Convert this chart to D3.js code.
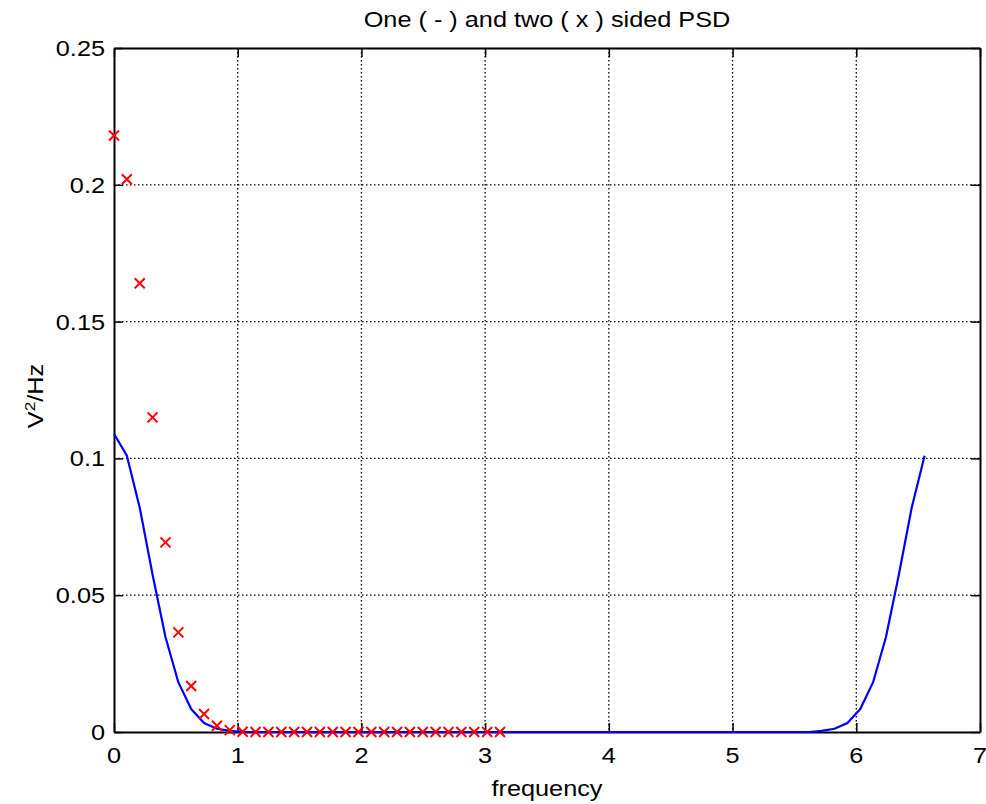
<!DOCTYPE html>
<html>
<head>
<meta charset="utf-8">
<script src="https://cdn.jsdelivr.net/npm/d3@7"></script>
<style>
  body { margin: 0; background: #fff; }
  text { font-family: "Liberation Sans", Arial, sans-serif; fill: #000; }
</style>
</head>
<body>
<script>
// frequency bins (one-sided spectrum, 64 bins)
var freq = [0, 0.104, 0.208, 0.312, 0.416, 0.520, 0.624, 0.728, 0.832, 0.936,
  1.040, 1.144, 1.248, 1.352, 1.456, 1.560, 1.664, 1.768, 1.872, 1.976,
  2.080, 2.184, 2.288, 2.392, 2.496, 2.600, 2.704, 2.808, 2.912, 3.016,
  3.120, 3.224, 3.328, 3.432, 3.536, 3.640, 3.744, 3.848, 3.952, 4.056,
  4.160, 4.264, 4.368, 4.472, 4.576, 4.680, 4.784, 4.888, 4.992, 5.096,
  5.200, 5.304, 5.408, 5.512, 5.616, 5.720, 5.824, 5.928, 6.032, 6.136,
  6.240, 6.344, 6.448, 6.552];

// one-sided PSD (blue line)
var psdOne = [0.109, 0.101, 0.082, 0.0575, 0.0347, 0.0182, 0.0084, 0.0033, 0.0012, 0.0004,
  0.0001, 0, 0, 0, 0, 0, 0, 0, 0, 0,
  0, 0, 0, 0, 0, 0, 0, 0, 0, 0,
  0, 0, 0, 0, 0, 0, 0, 0, 0, 0,
  0, 0, 0, 0, 0, 0, 0, 0, 0, 0,
  0, 0, 0, 0, 0, 0.0004, 0.0012, 0.0033, 0.0084, 0.0182,
  0.0347, 0.0575, 0.082, 0.101];

// two-sided PSD (red crosses), first 31 bins
var psdTwo = [0.218, 0.202, 0.164, 0.115, 0.0693, 0.0364, 0.0168, 0.0066, 0.0023, 0.0007,
  0.0001, 0, 0, 0, 0, 0, 0, 0, 0, 0,
  0, 0, 0, 0, 0, 0, 0, 0, 0, 0, 0];

var xTicks = [0, 1, 2, 3, 4, 5, 6, 7];
var yTicks = [0, 0.05, 0.1, 0.15, 0.2, 0.25];
var yTickLabels = ['0', '0.05', '0.1', '0.15', '0.2', '0.25'];

var width = 986, height = 804;
var margin = {left: 114, top: 48, right: 6, bottom: 72};
var graphWidth = width - margin.left - margin.right;
var graphHeight = height - margin.top - margin.bottom;
var fontSize = 22, stretch = 1.15;

var svg = d3.select('body').append('svg')
  .attr('width', width)
  .attr('height', height);

var xScale = d3.scaleLinear().domain([0, 7]).range([0, graphWidth]);
var yScale = d3.scaleLinear().domain([0, 0.25]).range([graphHeight, 0]);

var g = svg.append('g')
  .attr('transform', 'translate(' + margin.left + ',' + margin.top + ')');

// grid
g.append('g').selectAll('line')
  .data(xTicks.slice(1, -1))
  .enter().append('line')
  .attr('x1', function(d) { return xScale(d); })
  .attr('x2', function(d) { return xScale(d); })
  .attr('y1', 0).attr('y2', graphHeight)
  .attr('stroke', '#000').attr('stroke-width', 1.3)
  .attr('stroke-dasharray', '1.5,2.5');

g.append('g').selectAll('line')
  .data(yTicks.slice(1, -1))
  .enter().append('line')
  .attr('y1', function(d) { return yScale(d); })
  .attr('y2', function(d) { return yScale(d); })
  .attr('x1', 0).attr('x2', graphWidth)
  .attr('stroke', '#000').attr('stroke-width', 1.3)
  .attr('stroke-dasharray', '1.5,2.5');

// axes, ticks inward on all sides
var tickLen = 9;
var xAxisB = g.append('g').attr('transform', 'translate(0,' + graphHeight + ')')
  .call(d3.axisBottom(xScale).tickValues(xTicks).tickSizeInner(-tickLen).tickSizeOuter(0).tickFormat(''));
var xAxisT = g.append('g')
  .call(d3.axisTop(xScale).tickValues(xTicks).tickSizeInner(-tickLen).tickSizeOuter(0).tickFormat(''));
var yAxisL = g.append('g')
  .call(d3.axisLeft(yScale).tickValues(yTicks).tickSizeInner(-tickLen).tickSizeOuter(0).tickFormat(''));
var yAxisR = g.append('g').attr('transform', 'translate(' + graphWidth + ',0)')
  .call(d3.axisRight(yScale).tickValues(yTicks).tickSizeInner(-tickLen).tickSizeOuter(0).tickFormat(''));

[xAxisB, xAxisT, yAxisL, yAxisR].forEach(function(ax) {
  ax.selectAll('.domain').attr('stroke', '#000').attr('stroke-width', 2);
  ax.selectAll('.tick line').attr('stroke', '#000').attr('stroke-width', 1.5);
});

// tick labels (slightly wide, like the original renderer)
g.append('g').selectAll('text')
  .data(xTicks)
  .enter().append('text')
  .attr('transform', function(d) {
    return 'translate(' + xScale(d) + ',' + (graphHeight + 31) + ') scale(' + stretch + ',1)';
  })
  .attr('text-anchor', 'middle')
  .style('font-size', fontSize + 'px')
  .text(function(d) { return d; });

g.append('g').selectAll('text')
  .data(yTicks)
  .enter().append('text')
  .attr('transform', function(d) {
    return 'translate(-9,' + (yScale(d) + 8) + ') scale(' + stretch + ',1)';
  })
  .attr('text-anchor', 'end')
  .style('font-size', fontSize + 'px')
  .text(function(d, i) { return yTickLabels[i]; });

// one-sided line
var line = d3.line()
  .x(function(d, i) { return xScale(freq[i]); })
  .y(function(d) { return yScale(d); });

g.append('path')
  .datum(psdOne)
  .attr('d', line)
  .attr('fill', 'none')
  .attr('stroke', '#0000ff')
  .attr('stroke-width', 2.2);

// two-sided crosses
var cs = 5;
g.append('g').selectAll('path')
  .data(psdTwo)
  .enter().append('path')
  .attr('transform', function(d, i) {
    return 'translate(' + xScale(freq[i]) + ',' + yScale(d) + ')';
  })
  .attr('d', 'M' + (-cs) + ',' + (-cs) + 'L' + cs + ',' + cs + 'M' + (-cs) + ',' + cs + 'L' + cs + ',' + (-cs))
  .attr('stroke', '#ff0000')
  .attr('stroke-width', 2)
  .attr('fill', 'none');

// title and labels
svg.append('text')
  .attr('transform', 'translate(' + (margin.left + graphWidth / 2) + ',27) scale(' + stretch + ',1)')
  .attr('text-anchor', 'middle')
  .style('font-size', fontSize + 'px')
  .text('One ( - ) and two ( x ) sided PSD');

svg.append('text')
  .attr('transform', 'translate(' + (margin.left + graphWidth / 2) + ',796) scale(' + stretch + ',1)')
  .attr('text-anchor', 'middle')
  .style('font-size', fontSize + 'px')
  .text('frequency');

var yl = svg.append('text')
  .attr('transform', 'translate(43,396) rotate(-90) scale(' + stretch + ',1)')
  .attr('text-anchor', 'middle')
  .style('font-size', fontSize + 'px');
yl.append('tspan').text('V');
yl.append('tspan').attr('dy', -8).style('font-size', '15px').text('2');
yl.append('tspan').attr('dy', 8).text('/Hz');
</script>
</body>
</html>
